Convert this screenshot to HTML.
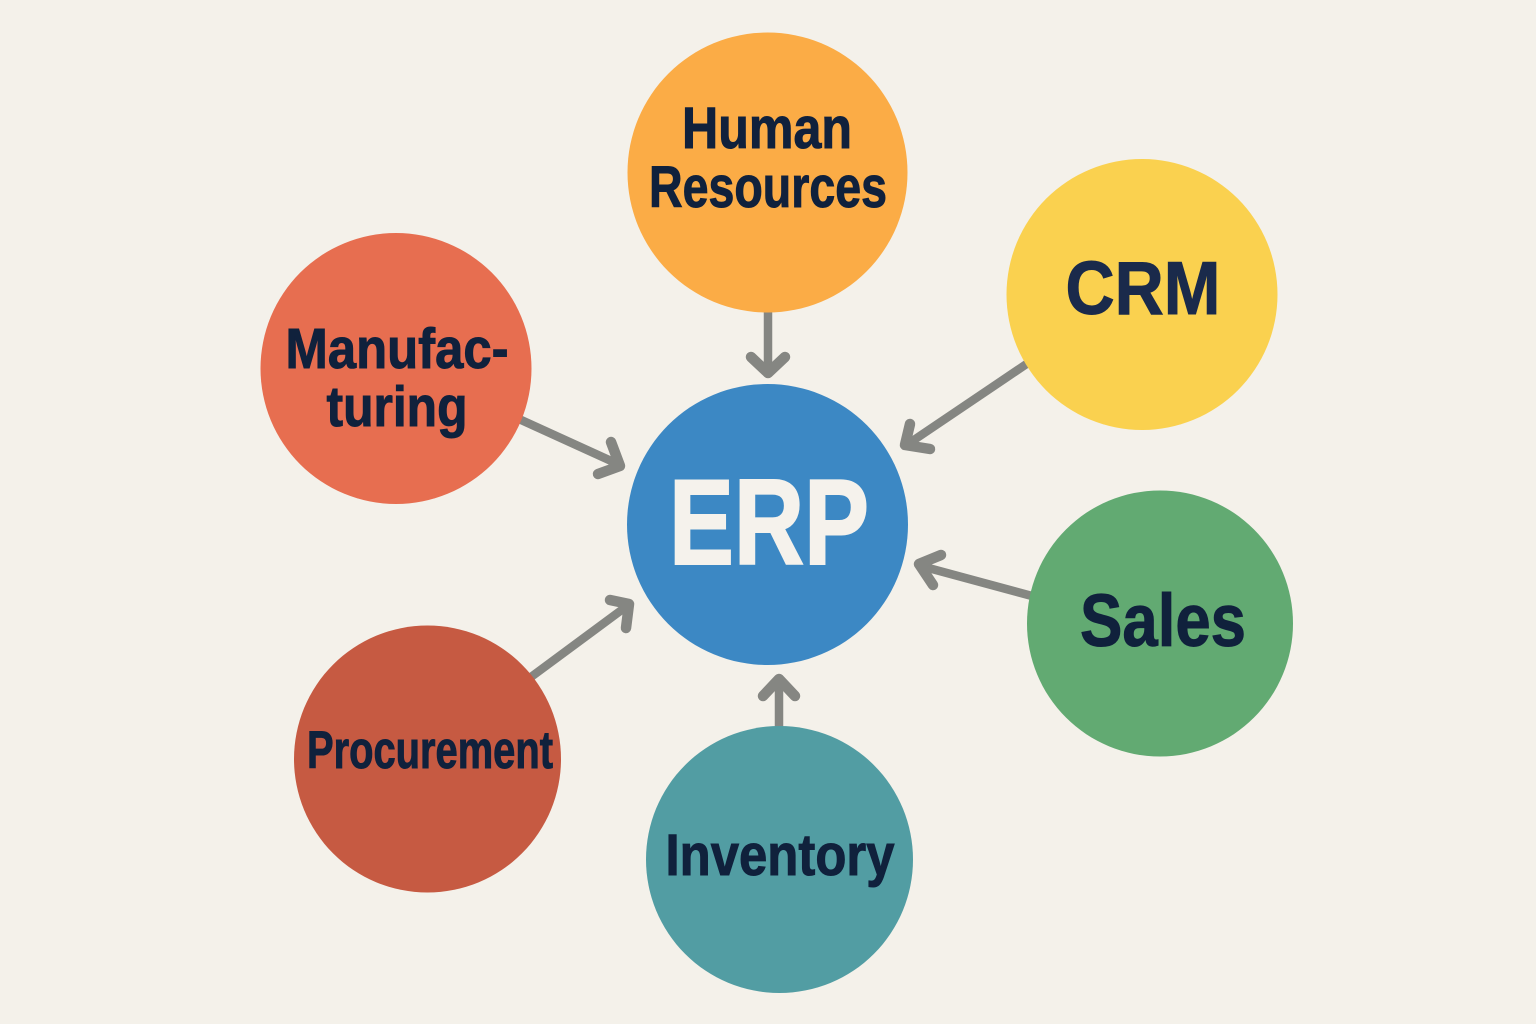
<!DOCTYPE html>
<html>
<head>
<meta charset="utf-8">
<style>
html,body{margin:0;padding:0;background:#f4f1ea;}
svg{display:block;}
text{font-family:"Liberation Sans",sans-serif;font-weight:700;fill:#10213c;stroke:#10213c;stroke-width:1px;text-anchor:middle;}
</style>
</head>
<body>
<svg width="1536" height="1024" viewBox="0 0 1536 1024" xmlns="http://www.w3.org/2000/svg">
<rect width="1536" height="1024" fill="#f4f1ea"/>
<g stroke="#858682" fill="none" stroke-linejoin="round" stroke-linecap="butt" stroke-width="8.500">
<path d="M768 310V372"/>
<path d="M1028 363L908 444"/>
<path d="M1032 596L921 566"/>
<path d="M779 728V682"/>
<path d="M531 677L627 606"/>
<path d="M519 419L620 465"/>
</g>
<g stroke="#858682" fill="none" stroke-linejoin="round" stroke-linecap="round" stroke-width="10.500">
<path d="M751 357L768 373L785 357"/>
<path d="M910 424L905 445L930 449"/>
<path d="M941 555L919 564L933 585"/>
<path d="M763 696L779 679L795 696"/>
<path d="M610 600L629 604L626 628"/>
<path d="M611 442L620 466L598 474"/>
</g>
<circle cx="767.500" cy="524.500" r="140.500" fill="#3c88c4"/>
<circle cx="767.500" cy="172.500" r="140" fill="#fbac46"/>
<circle cx="1142" cy="294.500" r="135.500" fill="#fad14f"/>
<circle cx="1160" cy="623.500" r="133" fill="#62aa72"/>
<circle cx="779.500" cy="859.500" r="133.500" fill="#529da3"/>
<circle cx="427.500" cy="759" r="133.500" fill="#c65a42"/>
<circle cx="396" cy="368.500" r="135.500" fill="#e76e50"/>
<text x="769" y="564" font-size="122" style="fill:#f5f2ec;stroke:#f5f2ec;stroke-width:2px" textLength="200" lengthAdjust="spacingAndGlyphs">ERP</text>
<text x="767" y="148" font-size="58" textLength="170" lengthAdjust="spacingAndGlyphs">Human</text>
<text x="768" y="207" font-size="58" textLength="238" lengthAdjust="spacingAndGlyphs">Resources</text>
<text x="1143" y="314" font-size="75" style="fill:#1a2a4b;stroke:#1a2a4b" textLength="155" lengthAdjust="spacingAndGlyphs">CRM</text>
<text x="1163" y="646" font-size="74" textLength="166" lengthAdjust="spacingAndGlyphs">Sales</text>
<text x="780" y="875" font-size="58" textLength="229" lengthAdjust="spacingAndGlyphs">Inventory</text>
<text x="430" y="768" font-size="53" textLength="246" lengthAdjust="spacingAndGlyphs">Procurement</text>
<text x="397" y="368" font-size="57" textLength="223" lengthAdjust="spacingAndGlyphs">Manufac-</text>
<text x="397" y="426" font-size="57" textLength="141" lengthAdjust="spacingAndGlyphs">turing</text>
</svg>
</body>
</html>
